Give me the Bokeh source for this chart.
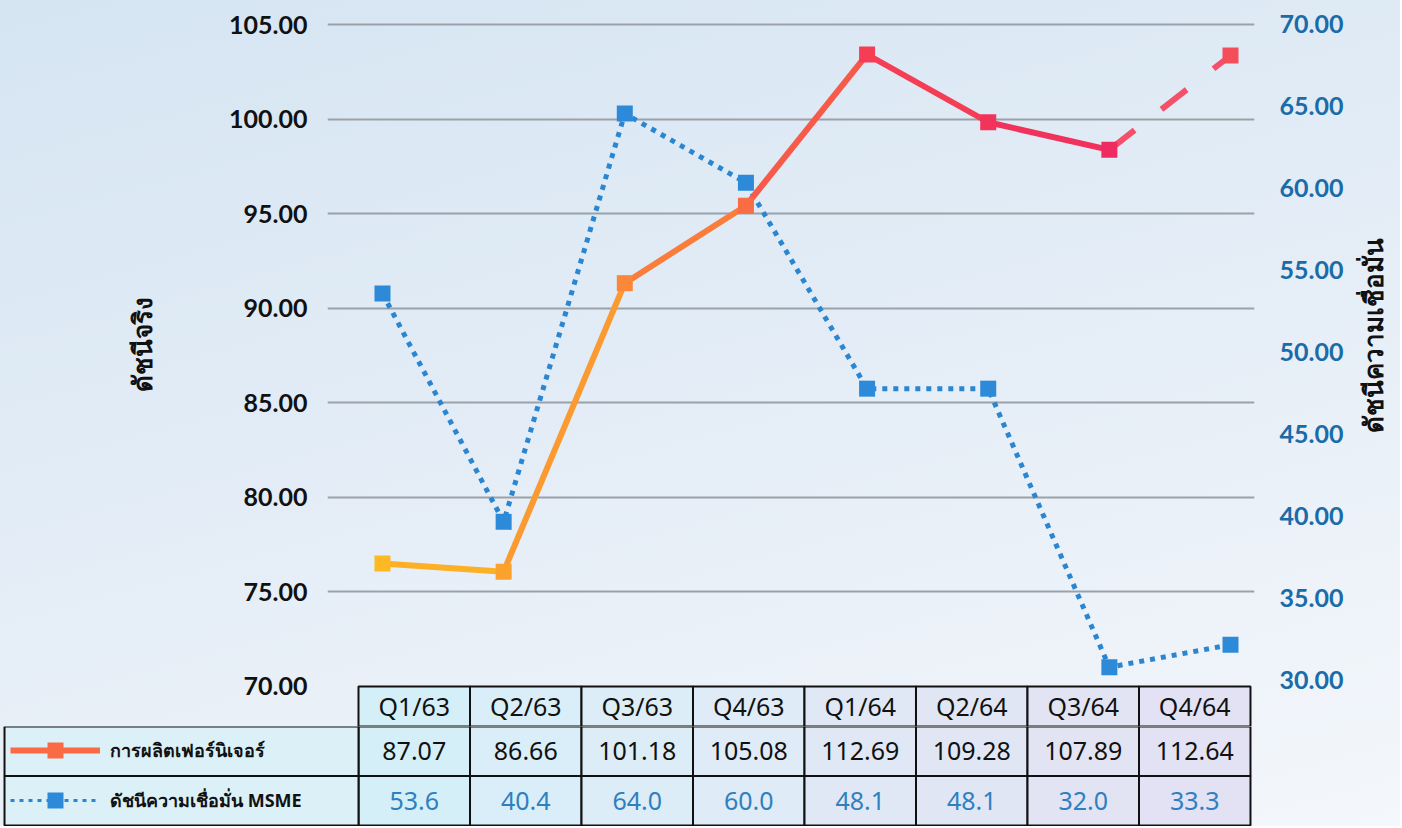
import math
from bokeh.plotting import figure
from bokeh.models import (Range1d, LinearAxis, FixedTicker, PrintfTickFormatter,
                          ColumnDataSource, Legend, LegendItem)
from bokeh.layouts import column, row
from bokeh.embed import file_html
from bokeh.resources import INLINE
from bokeh.core.properties import value

# ---------------- data ----------------
quarters = ["Q1/63", "Q2/63", "Q3/63", "Q4/63", "Q1/64", "Q2/64", "Q3/64", "Q4/64"]
furniture = [87.07, 86.66, 101.18, 105.08, 112.69, 109.28, 107.89, 112.64]
msme = [53.6, 40.4, 64.0, 60.0, 48.1, 48.1, 32.0, 33.3]
left_ticks = [70, 75, 80, 85, 90, 95, 100, 105]
right_ticks = [30, 35, 40, 45, 50, 55, 60, 65, 70]
furniture_name = "การผลิตเฟอร์นิเจอร์"
msme_name = "ดัชนีความเชื่อมั่น MSME"
left_title = "ดัชนีจริง"
right_title = "ดัชนีความเชื่อมั่น"

# ---------------- styles ----------------
FONT = "Noto Sans"
AXFONT = "Lato"
furn_seg_colors = ["#fbb025", "#fb9a30", "#fa7d3c", "#f85a4a", "#f53d55", "#f1325c"]
furn_last_color = "#f5506a"
furn_marker_colors = ["#fdb823", "#fba12e", "#fb883a", "#fa6c43", "#f53d55", "#f2335a", "#ee2c62", "#f34e5a"]
msme_line_color = "#2a86d0"
msme_marker_color = "#2d8ad9"
col_fill = ["#d5eff8", "#d9eef8", "#dcedf7", "#dfebf6", "#e0e8f5", "#e1e6f5", "#e2e4f4", "#e3e2f4"]
legend_fill = "#dcf0f7"
right_color = "#1a6ba8"
msme_text_color = "#2f80be"

W = 1400
H_TOP = 726
D_W = 200          # left title strip
C_W = 48           # right title strip
A_W = W - D_W - C_W
idx = list(range(len(quarters)))

common = dict(output_backend="svg", toolbar_location=None, background_fill_alpha=0,
              border_fill_alpha=0, outline_line_color=None, frame_align=False)


def title_strip(width, text, sx, sy):
    f = figure(width=width, height=H_TOP, x_range=Range1d(0, width), y_range=Range1d(H_TOP, 0),
               x_axis_location=None, y_axis_location=None, min_border_left=0, min_border_right=0,
               min_border_top=0, min_border_bottom=0, **common)
    f.xgrid.visible = False
    f.ygrid.visible = False
    f.text(x=[sx], y=[sy], text=[text], angle=math.pi / 2, text_align="center",
           text_baseline="middle", text_font=value(FONT), text_font_style="bold",
           text_font_size="26px", text_color="#111111")
    return f


D = title_strip(D_W, left_title, 141, 344)
C = title_strip(C_W, right_title, 20, 335)

# ---------------- main chart ----------------
A = figure(width=A_W, height=H_TOP, x_range=Range1d(-0.454, 7.198), y_range=Range1d(67.885, 105.952),
           x_axis_location=None,
           min_border_left=327 - D_W, min_border_right=A_W - (1254 - D_W), min_border_top=6,
           min_border_bottom=0, **common)
A.extra_y_ranges = {"rax": Range1d(27.130, 71.099),
                    "furn": Range1d(78.865, 115.106),
                    "msme": Range1d(28.572, 70.190)}
A.extra_x_ranges = {"tbl": Range1d(-0.278, 8.036)}

ax = A.yaxis[0]
ax.ticker = FixedTicker(ticks=left_ticks)
ax.formatter = PrintfTickFormatter(format="%.2f")
ax.axis_line_color = None
ax.major_tick_line_color = None
ax.minor_tick_line_color = None
ax.major_label_standoff = 14
ax.major_label_text_font = AXFONT
ax.major_label_text_font_style = "bold"
ax.major_label_text_font_size = "25px"
ax.major_label_text_color = "#111111"

rax = LinearAxis(y_range_name="rax", ticker=FixedTicker(ticks=right_ticks),
                 formatter=PrintfTickFormatter(format="%.2f"))
rax.axis_line_color = None
rax.major_tick_line_color = None
rax.minor_tick_line_color = None
rax.major_label_standoff = 19
rax.major_label_text_font = AXFONT
rax.major_label_text_font_style = "bold"
rax.major_label_text_font_size = "25px"
rax.major_label_text_color = right_color
A.add_layout(rax, "right")

A.xgrid.visible = False
A.ygrid.ticker = FixedTicker(ticks=left_ticks[1:])
A.ygrid.grid_line_color = "#9ba1a8"
A.ygrid.grid_line_width = 2

# MSME series
A.line(idx, msme, y_range_name="msme", line_color=msme_line_color, line_width=5, line_dash="5 6")
A.scatter(idx, msme, y_range_name="msme", marker="square", size=16,
          fill_color=msme_marker_color, line_color=None)

# furniture series (segment colours give the gradient)
seg = ColumnDataSource(dict(
    xs=[[idx[i], idx[i + 1]] for i in range(len(idx) - 2)],
    ys=[[furniture[i], furniture[i + 1]] for i in range(len(idx) - 2)],
    c=furn_seg_colors))
A.multi_line("xs", "ys", source=seg, y_range_name="furn", line_color="c", line_width=6)
A.line(idx[-2:], furniture[-2:], y_range_name="furn", line_color=furn_last_color,
       line_width=6, line_dash="32 34")
A.scatter(idx, furniture, y_range_name="furn", marker="square", size=16,
          fill_color=furn_marker_colors, line_color=None)

# table header row (sits below the 70 baseline)
y0 = A.y_range.start
hdr = ColumnDataSource(dict(l=idx, r=[i + 1 for i in idx], xc=[i + 0.5 for i in idx],
                            q=quarters, f=col_fill))
A.quad(left="l", right="r", bottom=y0, top=left_ticks[0], source=hdr, x_range_name="tbl",
       fill_color="f", line_color="#111111", line_width=2)
A.text(x="xc", y=(y0 + left_ticks[0]) / 2, text="q", source=hdr, x_range_name="tbl",
       text_align="center", text_baseline="middle", text_font=value(FONT),
       text_font_size="25px", text_color="#111111")

# ---------------- table body ----------------
B = figure(width=W, height=100, x_range=Range1d(-3.211, 8.036), y_range=Range1d(-0.0202, 2.0),
           x_axis_location=None, y_axis_location=None,
           min_border_left=0, min_border_right=W - 1254, min_border_top=0, min_border_bottom=0,
           **common)
B.xgrid.visible = False
B.ygrid.visible = False

body = ColumnDataSource(dict(
    l=idx + idx, r=[i + 1 for i in idx] * 2, xc=[i + 0.5 for i in idx] * 2,
    b=[1] * len(idx) + [0] * len(idx), t=[2] * len(idx) + [1] * len(idx),
    yc=[1.5] * len(idx) + [0.5] * len(idx),
    txt=["%.2f" % v for v in furniture] + ["%.1f" % v for v in msme],
    tc=["#111111"] * len(idx) + [msme_text_color] * len(idx),
    f=col_fill + col_fill))
B.quad(left="l", right="r", bottom="b", top="t", source=body,
       fill_color="f", line_color="#111111", line_width=2)
B.quad(left=-3.175, right=0, bottom=[1, 0], top=[2, 1],
       fill_color=legend_fill, line_color="#111111", line_width=2)
B.text(x="xc", y="yc", text="txt", source=body, text_color="tc",
       text_align="center", text_baseline="middle", text_font=value(FONT), text_font_size="25px")

# legend-only renderers: the series values lie far outside this panel's y range
l1 = B.line(idx, furniture, line_color="#fa6a45", line_width=6)
s1 = B.scatter(idx, furniture, marker="square", fill_color="#fa6a45", line_color=None)
l2 = B.line(idx, msme, line_color=msme_line_color, line_width=3, line_dash="4 5")
s2 = B.scatter(idx, msme, marker="square", fill_color=msme_marker_color, line_color=None)
leg = Legend(items=[LegendItem(label=furniture_name, renderers=[l1, s1]),
                    LegendItem(label=msme_name, renderers=[l2, s2])],
             location=(10, 6), glyph_width=90, glyph_height=40, label_standoff=10,
             spacing=10, padding=0, margin=0, background_fill_alpha=0, border_line_color=None,
             label_text_font=FONT, label_text_font_style="bold", label_text_font_size="18px",
             label_text_color="#111111")
B.add_layout(leg)

layout = column(row(D, A, C, spacing=0), B, spacing=0,
                styles={"background": "linear-gradient(165deg, #d5e5f2 0%, #e6eef7 55%, #f4f7fb 100%)"})

open("out.html", "w").write(file_html(layout, INLINE))
